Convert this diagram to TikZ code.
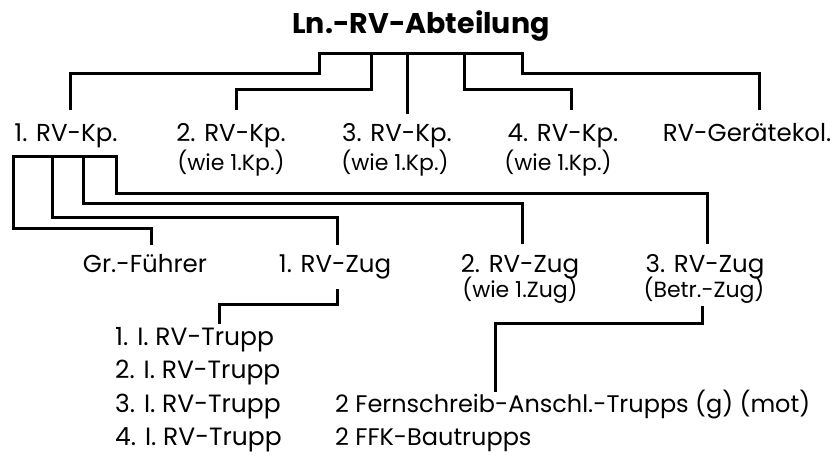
\documentclass[tikz,border=0pt]{standalone}
\usepackage{fontspec}
\setmainfont{Poppins}
\begin{document}
\begin{tikzpicture}[x=1pt,y=-1pt,
  lbl/.style={anchor=base,inner sep=0pt,font=\fontsize{24.5}{24.5}\selectfont},
  sub/.style={anchor=base,inner sep=0pt,font=\fontsize{22}{22}\selectfont},
  lst/.style={anchor=base west,inner sep=0pt,font=\fontsize{25}{25}\selectfont},
  lstb/.style={anchor=base west,inner sep=0pt,font=\fontsize{24}{24}\selectfont},
  ttl/.style={anchor=base,inner sep=0pt,font=\fontsize{28.5}{28.5}\selectfont\bfseries},
  conn/.style={line width=3pt,line cap=rect,line join=miter}]
\useasboundingbox (0,0) rectangle (834,459);
% labels
\node[ttl] (title) at (421,33) {Ln.-RV-Abteilung};
\node[lbl] (k1) at (66,141) {1. RV-Kp.};
\node[lbl] (k2) at (231,141) {2. RV-Kp.};
\node[sub] (k2s) at (231,170) {(wie 1.Kp.)};
\node[lbl] (k3) at (397,141) {3. RV-Kp.};
\node[sub] (k3s) at (395,170) {(wie 1.Kp.)};
\node[lbl] (k4) at (563,141) {4. RV-Kp.};
\node[sub] (k4s) at (558,170) {(wie 1.Kp.)};
\node[lbl] (gk) at (747,141) {RV-Gerätekol.};
\node[lbl] (gf) at (145,272) {Gr.-Führer};
\node[lbl] (z1) at (335,272) {1. RV-Zug};
\node[lbl] (z2) at (520,272) {2. RV-Zug};
\node[sub] (z2s) at (520,297) {(wie 1.Zug)};
\node[lbl] (z3) at (705,272) {3. RV-Zug};
\node[sub] (z3s) at (704,297) {(Betr.-Zug)};
\node[lst] (t1) at (115,345) {1. I. RV-Trupp};
\node[lst] (t2) at (115,378) {2. I. RV-Trupp};
\node[lst] (t3) at (115,412) {3. I. RV-Trupp};
\node[lst] (t4) at (115,445) {4. I. RV-Trupp};
\node[lstb] (f1) at (335,412) {2 Fernschreib-Anschl.-Trupps (g) (mot)};
\node[lstb] (f2) at (335,445) {2 FFK-Bautrupps};
% connector end points
\coordinate (ek1) at (70,108);
\coordinate (ek2) at (236,108);
\coordinate (ek3) at (407,112);
\coordinate (ek4) at (571,108);
\coordinate (egk) at (759,108);
\coordinate (egf) at (151,243);
\coordinate (ez1) at (337,243);
\coordinate (ez2) at (522,242);
\coordinate (ez3) at (707,242);
\coordinate (sz1) at (337,290);
\coordinate (et1) at (219,322);
\coordinate (sz3) at (702,307);
\coordinate (ef1) at (495,390);
% top level
\draw[conn] (ek1) -- (70,73) -- (319,73) -- (319,53) -- (522,53) -- (522,73) -- (759,73) -- (egk);
\draw[conn] (ek2) -- (236,89) -- (371,89) -- (371,53);
\draw[conn] (407,53) -- (ek3);
\draw[conn] (464,53) -- (464,89) -- (571,89) -- (ek4);
% company level
\draw[conn] (egf) -- (151,228) -- (13,228) -- (13,156) -- (116,156) -- (116,193) -- (707,193) -- (ez3);
\draw[conn] (52,156) -- (52,217) -- (337,217) -- (ez1);
\draw[conn] (83,156) -- (83,203) -- (522,203) -- (ez2);
% platoon level
\draw[conn] (sz1) -- (337,304) -- (219,304) -- (et1);
\draw[conn] (sz3) -- (702,323) -- (495,323) -- (ef1);
\end{tikzpicture}
\end{document}
